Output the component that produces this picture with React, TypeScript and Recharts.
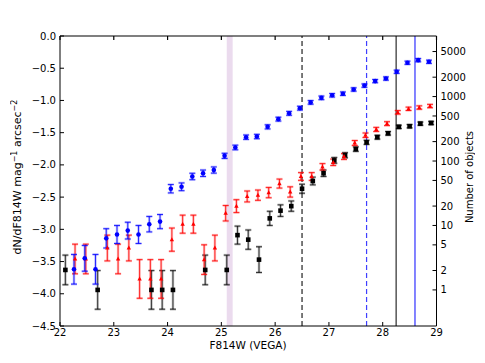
import React from 'react';
import {
  ComposedChart,
  Scatter,
  XAxis,
  YAxis,
  ErrorBar,
  ReferenceLine,
  ReferenceArea,
} from 'recharts';

// bin centres (F814W mag) and log surface density for each sample
const blackMag = [22.1, 22.7, 23.7, 23.9, 24.1, 24.7, 25.1, 25.3, 25.5, 25.7, 25.9, 26.1, 26.3, 26.5, 26.7, 26.9, 27.1, 27.3, 27.5, 27.7, 27.9, 28.1, 28.3, 28.5, 28.7, 28.9];
const blackDens = [-3.63, -3.94, -3.94, -3.94, -3.94, -3.63, -3.63, -3.09, -3.16, -3.47, -2.83, -2.71, -2.64, -2.37, -2.25, -2.13, -1.93, -1.85, -1.755, -1.65, -1.57, -1.51, -1.41, -1.4, -1.36, -1.35];
const blackErr = [0.23, 0.3, 0.3, 0.3, 0.3, 0.23, 0.23, 0.14, 0.15, 0.2, 0.11, 0.09, 0.08, 0.07, 0.06, 0.05, 0.045, 0.04, 0.035, 0.032, 0.03, 0.028, 0.026, 0.026, 0.025, 0.025];

const redMag = [22.3, 22.5, 22.9, 23.1, 23.3, 23.5, 23.7, 23.9, 24.1, 24.3, 24.5, 24.7, 24.9, 25.1, 25.3, 25.5, 25.7, 25.9, 26.1, 26.3, 26.5, 26.7, 26.9, 27.1, 27.3, 27.5, 27.7, 27.9, 28.1, 28.3, 28.5, 28.7, 28.9];
const redDens = [-3.46, -3.46, -3.29, -3.46, -3.29, -3.77, -3.77, -3.77, -3.16, -2.92, -2.92, -3.47, -3.29, -2.75, -2.64, -2.49, -2.47, -2.43, -2.29, -2.42, -2.18, -2.18, -2.03, -1.96, -1.87, -1.66, -1.54, -1.45, -1.36, -1.185, -1.13, -1.11, -1.087];
const redErr = [0.23, 0.23, 0.2, 0.23, 0.2, 0.3, 0.3, 0.3, 0.18, 0.14, 0.14, 0.23, 0.2, 0.12, 0.1, 0.085, 0.08, 0.08, 0.07, 0.08, 0.06, 0.06, 0.05, 0.05, 0.045, 0.038, 0.035, 0.032, 0.03, 0.028, 0.026, 0.026, 0.026];

const blueMag = [22.3, 22.5, 22.7, 22.9, 23.1, 23.3, 23.5, 23.7, 23.9, 24.1, 24.3, 24.5, 24.7, 24.9, 25.1, 25.3, 25.5, 25.7, 25.9, 26.1, 26.3, 26.5, 26.7, 26.9, 27.1, 27.3, 27.5, 27.7, 27.9, 28.1, 28.3, 28.5, 28.7, 28.9];
const blueDens = [-3.62, -3.45, -3.62, -3.14, -3.08, -3.02, -3.08, -2.92, -2.88, -2.37, -2.34, -2.18, -2.13, -2.08, -1.86, -1.73, -1.57, -1.56, -1.41, -1.29, -1.2, -1.12, -1.03, -0.96, -0.92, -0.895, -0.83, -0.77, -0.7, -0.66, -0.555, -0.415, -0.375, -0.4];
const blueErr = [0.23, 0.2, 0.23, 0.15, 0.14, 0.13, 0.14, 0.12, 0.11, 0.065, 0.06, 0.05, 0.05, 0.048, 0.04, 0.036, 0.034, 0.034, 0.032, 0.03, 0.03, 0.03, 0.028, 0.028, 0.027, 0.027, 0.026, 0.026, 0.025, 0.025, 0.025, 0.025, 0.025, 0.025];

const xTicks = [22, 23, 24, 25, 26, 27, 28, 29];
const yTicks = [0, -0.5, -1, -1.5, -2, -2.5, -3, -3.5, -4, -4.5];
const countTicks = [1, 2, 5, 10, 20, 50, 100, 200, 500, 1000, 2000, 5000];
const countOffset = 3.94; // log N - density offset for right axis

const band = [25.1, 25.21];
const limits = [
  { x: 26.5, color: '#222222', dash: '5 3', width: 1.2 },
  { x: 27.7, color: '#3f3fff', dash: '5 3', width: 1.2 },
  { x: 28.25, color: '#555555', dash: undefined, width: 1.5 },
  { x: 28.6, color: '#3030ff', dash: undefined, width: 1.2 },
];

const build = (mag: number[], dens: number[], err: number[], dx: number) =>
  mag.map((m, i) => ({ x: m + dx, y: dens[i], err: err[i] }));

const blackData = build(blackMag, blackDens, blackErr, 0);
const redData = build(redMag, redDens, redErr, -0.02);
const blueData = build(blueMag, blueDens, blueErr, -0.04);

const font = 'DejaVu Sans';

const Square = (p: any) => (
  <rect x={p.cx - 2.3} y={p.cy - 2.3} width={4.6} height={4.6} fill="#000" />
);
const Tri = (p: any) => (
  <polygon
    points={`${p.cx},${p.cy - 2.4} ${p.cx - 2.2},${p.cy + 1.6} ${p.cx + 2.2},${p.cy + 1.6}`}
    fill="#ff0000"
  />
);
const Dot = (p: any) => <circle cx={p.cx} cy={p.cy} r={2.3} fill="#0000ff" />;

const fmtY = (v: number) => v.toFixed(1).replace('-', '\u2212');
const fmtCount = (v: number) => String(Math.round(Math.pow(10, v + countOffset)));

const tickStyle = { fill: '#000', fontSize: 10, fontFamily: font };

const App = () => {
  return (
    <div style={{ position: 'absolute', left: 0, top: 0, background: '#fff' }}>
      <ComposedChart
        width={485}
        height={363}
        margin={{ top: 26, right: 0, bottom: 0, left: 0 }}
        style={{ fontFamily: font }}
      >
        <XAxis
          dataKey="x"
          type="number"
          domain={[22, 29]}
          ticks={xTicks}
          height={37}
          tickSize={-4}
          tickMargin={7}
          tick={tickStyle}
          stroke="#000"
          allowDataOverflow
          label={{
            content: () => (
              <text x={248} y={349} textAnchor="middle" fontSize={10.5} fontFamily={font} fill="#000">
                F814W (VEGA)
              </text>
            ),
          }}
        />
        <XAxis
          xAxisId="top"
          dataKey="x"
          orientation="top"
          type="number"
          domain={[22, 29]}
          ticks={xTicks}
          height={10}
          tickSize={-4}
          tickFormatter={() => ''}
          stroke="#000"
          strokeWidth={1.2}
          allowDataOverflow
        />
        <YAxis
          dataKey="y"
          type="number"
          domain={[-4.5, 0]}
          ticks={yTicks}
          width={60}
          tickSize={-4}
          tickMargin={8}
          tickFormatter={fmtY}
          tick={tickStyle}
          stroke="#000"
          allowDataOverflow
          label={{
            content: () => (
              <text
                x={21}
                y={177}
                transform="rotate(-90 21 177)"
                textAnchor="middle"
                fontSize={11}
                fontFamily={font}
                fill="#000"
              >
                dN/dF814W mag
                <tspan dy={-4} fontSize={8}>{'\u22121'}</tspan>
                <tspan dy={4}> arcsec</tspan>
                <tspan dy={-4} fontSize={8}>{'\u22122'}</tspan>
              </text>
            ),
          }}
        />
        <YAxis
          yAxisId="right"
          dataKey="y"
          orientation="right"
          type="number"
          domain={[-4.5, 0]}
          ticks={countTicks.map((n) => Math.log10(n) - countOffset)}
          width={48.5}
          tickSize={-4}
          tickMargin={8}
          tickFormatter={fmtCount}
          tick={tickStyle}
          stroke="#000"
          allowDataOverflow
          label={{
            content: () => (
              <text
                x={473}
                y={177}
                transform="rotate(-90 473 177)"
                textAnchor="middle"
                fontSize={10}
                fontFamily={font}
                fill="#000"
              >
                Number of objects
              </text>
            ),
          }}
        />

        <ReferenceArea x1={band[0]} x2={band[1]} y1={-4.5} y2={0} fill="#e6d2ea" fillOpacity={0.8} stroke="none" />
        {limits.map((l) => (
          <ReferenceLine
            key={l.x}
            x={l.x}
            stroke={l.color}
            strokeWidth={l.width}
            strokeDasharray={l.dash}
          />
        ))}

        <Scatter data={blackData} yAxisId="right" shape={Square} isAnimationActive={false}>
          <ErrorBar dataKey="err" direction="y" width={3} stroke="#000" strokeOpacity={0.25} strokeWidth={2.5} />
          <ErrorBar dataKey="err" direction="y" width={3} stroke="#000" strokeOpacity={0.7} strokeWidth={1} />
        </Scatter>
        <Scatter data={redData} shape={Tri} isAnimationActive={false}>
          <ErrorBar dataKey="err" direction="y" width={3} stroke="#ff0000" strokeOpacity={0.25} strokeWidth={2.5} />
          <ErrorBar dataKey="err" direction="y" width={3} stroke="#ff0000" strokeOpacity={0.8} strokeWidth={1} />
        </Scatter>
        <Scatter data={blueData} xAxisId="top" shape={Dot} isAnimationActive={false}>
          <ErrorBar dataKey="err" direction="y" width={3} stroke="#0000ff" strokeOpacity={0.25} strokeWidth={2.5} />
          <ErrorBar dataKey="err" direction="y" width={3} stroke="#0000ff" strokeOpacity={0.8} strokeWidth={1} />
        </Scatter>
      </ComposedChart>
    </div>
  );
};

export default App;
